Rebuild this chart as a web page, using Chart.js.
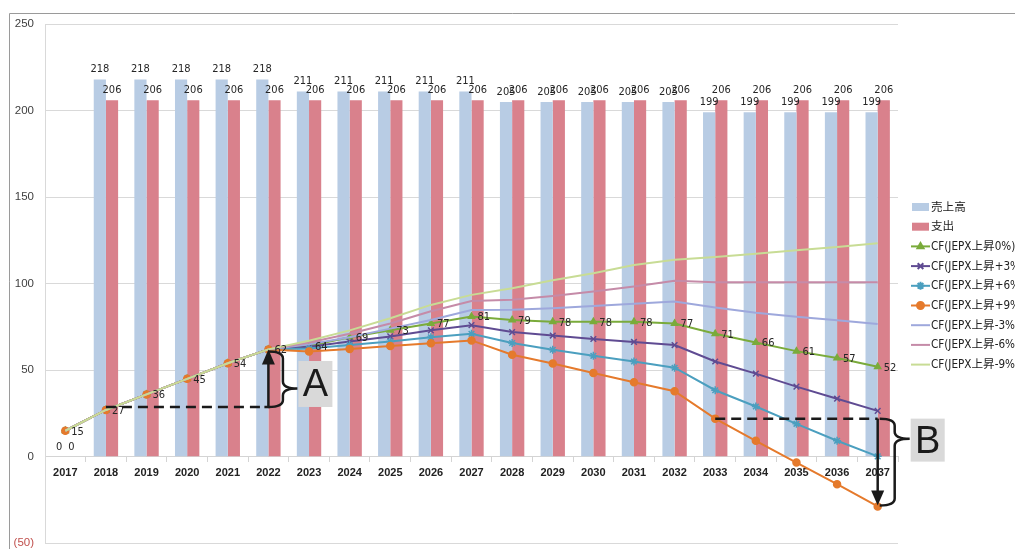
<!DOCTYPE html>
<html>
<head>
<meta charset="utf-8">
<script src="https://cdn.jsdelivr.net/npm/chart.js@4.4.1/dist/chart.umd.min.js"></script>
<style>
  html, body { margin: 0; padding: 0; background: #fff; }
  canvas { display: block; }
</style>
</head>
<body>
<canvas id="chart" width="1015" height="549"></canvas>
<script>
// Fiscal years
const years = ['2017','2018','2019','2020','2021','2022','2023','2024','2025','2026','2027',
               '2028','2029','2030','2031','2032','2033','2034','2035','2036','2037'];

// Revenue and expenditure (bars)
const sales = [0,218,218,218,218,218,211,211,211,211,211,205,205,205,205,205,199,199,199,199,199];
const costs = [0,206,206,206,206,206,206,206,206,206,206,206,206,206,206,206,206,206,206,206,206];

// Cumulative cash flow under JEPX price scenarios
const cfZero  = [15,27,36,45,54,62,64,69,73,77,81,79,78,78,78,77,71,66,61,57,52];
const cfUp3   = [15,27,36,45,54,62,63.5,66.5,69.5,73,76,72,70,68,66.3,64.5,55,48,40.5,33.5,26.5];
const cfUp6   = [15,27,36,45,54,62,62.5,64.5,66.5,69,71,65.7,61.8,58.3,55,51.4,38.4,29,19,9.2,0.2];
const cfUp9   = [15,27,36,45,54,62,60.8,62.3,64,65.6,67.2,58.9,53.8,48.4,43,37.8,22,9.2,-3.4,-15.9,-28.7];
const cfDown3 = [15,27,36,45,54,62,65,69,74,79,84.8,84.9,85.8,87.1,88.4,89.6,86.2,83.2,80.8,78.8,76.7];
const cfDown6 = [15,27,36,45,54,62,66,71,77,84,90,90.7,92.9,95.4,98.3,101.6,100.8,100.8,100.8,100.8,100.8];
const cfDown9 = [15,27,36,45,54,62,67,73,80,87.7,93.5,97.3,101.9,106,110.8,113.8,115.4,117.3,119.3,121.2,123.3];

// Value axis ticks
const yTicks = [-50, 0, 50, 100, 150, 200, 250];

const labelFont = "11px 'Liberation Sans Narrow','DejaVu Sans Condensed','Liberation Sans',sans-serif";
const legendFont = "11.6px 'Liberation Sans Narrow','DejaVu Sans Condensed','Noto Sans CJK JP',sans-serif";

const seriesStyle = [
  { label: '売上高', color: '#b8cce4', kind: 'bar' },
  { label: '支出',   color: '#d9818c', kind: 'bar' },
  { label: 'CF(JEPX上昇0%)',  color: '#7aab3b', kind: 'line', point: 'triangle', r: 3.5 },
  { label: 'CF(JEPX上昇+3%)', color: '#5f4b92', kind: 'line', point: 'crossRot', r: 4 },
  { label: 'CF(JEPX上昇+6%)', color: '#4b9fbf', kind: 'line', point: 'star', r: 4 },
  { label: 'CF(JEPX上昇+9%)', color: '#e57a2c', kind: 'line', point: 'circle', r: 3.5 },
  { label: 'CF(JEPX上昇-3%)', color: '#9ea8dc', kind: 'line', point: false, r: 0 },
  { label: 'CF(JEPX上昇-6%)', color: '#c58ba8', kind: 'line', point: false, r: 0 },
  { label: 'CF(JEPX上昇-9%)', color: '#c8dc95', kind: 'line', point: false, r: 0 }
];
const seriesData = [sales, costs, cfZero, cfUp3, cfUp6, cfUp9, cfDown3, cfDown6, cfDown9];

const datasets = seriesStyle.map((s, i) => {
  if (s.kind === 'bar') {
    return {
      type: 'bar', label: s.label, data: seriesData[i],
      backgroundColor: s.color, borderWidth: 0,
      categoryPercentage: 0.6, barPercentage: 1.0,
      order: 30 + i
    };
  }
  return {
    type: 'line', label: s.label, data: seriesData[i],
    borderColor: s.color, backgroundColor: s.color, borderWidth: 2,
    pointStyle: s.point || 'circle', pointRadius: s.r,
    pointBorderColor: s.color, pointBackgroundColor: s.color, pointBorderWidth: 1.5,
    tension: 0, fill: false,
    order: 20 - i
  };
});

// Outer frame of the chart
const framePlugin = {
  id: 'frame',
  beforeDraw(chart) {
    const c = chart.ctx;
    c.save();
    c.strokeStyle = '#9a9a9a';
    c.lineWidth = 1;
    c.beginPath();
    c.moveTo(9.5, 549);
    c.lineTo(9.5, 13.5);
    c.lineTo(1015, 13.5);
    c.stroke();
    c.restore();
  }
};

// Values above bars and beside the base-case cash flow points
const valueLabelPlugin = {
  id: 'valueLabels',
  afterDatasetsDraw(chart) {
    const c = chart.ctx;
    c.save();
    c.font = labelFont;
    c.fillStyle = '#262626';
    c.textBaseline = 'middle';
    c.textAlign = 'center';
    [0, 1].forEach(di => {
      chart.getDatasetMeta(di).data.forEach((el, i) => {
        c.fillText(String(seriesData[di][i]), el.x, el.y - 10);
      });
    });
    c.textAlign = 'left';
    chart.getDatasetMeta(2).data.forEach((el, i) => {
      c.fillText(String(cfZero[i]), el.x + 6, el.y + 1);
    });
    c.restore();
  }
};

// Legend on the right
const legendPlugin = {
  id: 'sideLegend',
  afterDraw(chart) {
    const c = chart.ctx;
    c.save();
    c.font = legendFont;
    c.textBaseline = 'middle';
    c.textAlign = 'left';
    const x0 = 911, y0 = 207, step = 19.7;
    seriesStyle.forEach((s, i) => {
      const y = y0 + i * step;
      if (s.kind === 'bar') {
        c.fillStyle = s.color;
        c.fillRect(x0 + 1, y - 4, 17, 8);
      } else {
        c.strokeStyle = s.color;
        c.fillStyle = s.color;
        c.lineWidth = 2;
        c.beginPath();
        c.moveTo(x0, y);
        c.lineTo(x0 + 19, y);
        c.stroke();
        if (s.point) {
          Chart.helpers.drawPoint(c, {
            pointStyle: s.point, radius: s.r, borderWidth: 1.5, rotation: 0
          }, x0 + 9.5, y);
        }
      }
      c.fillStyle = '#222';
      c.fillText(s.label, x0 + 20, y + 0.5);
    });
    c.restore();
  }
};

function drawArrowHead(c, x, y, dir) {
  // dir = -1 pointing up, +1 pointing down
  c.beginPath();
  c.moveTo(x, y);
  c.lineTo(x - 6.5, y - dir * 15);
  c.lineTo(x + 6.5, y - dir * 15);
  c.closePath();
  c.fill();
}

function drawBrace(c, x, yTop, yBot, yTip, w) {
  const xm = x + w * 0.5, xt = x + w;
  const r = 7;
  c.beginPath();
  c.moveTo(x, yTop);
  c.quadraticCurveTo(xm, yTop, xm, yTop + r);
  c.lineTo(xm, yTip - r);
  c.quadraticCurveTo(xm, yTip, xt, yTip);
  c.quadraticCurveTo(xm, yTip, xm, yTip + r);
  c.lineTo(xm, yBot - r);
  c.quadraticCurveTo(xm, yBot, x, yBot);
  c.stroke();
}

function drawTag(c, text, x, y, w, h) {
  c.fillStyle = '#d9d9d9';
  c.fillRect(x, y, w, h);
  c.fillStyle = '#1a1a1a';
  c.font = "38px 'Liberation Sans','DejaVu Sans',sans-serif";
  c.textAlign = 'center';
  c.textBaseline = 'middle';
  c.fillText(text, x + w / 2, y + h / 2 + 2);
}

// Callouts A (cash recovered by 2022) and B (shortfall by 2037 at +9%)
const calloutPlugin = {
  id: 'callouts',
  afterDraw(chart) {
    const c = chart.ctx;
    const xs = chart.scales.x, ys = chart.scales.y;
    c.save();
    c.strokeStyle = '#1a1a1a';
    c.fillStyle = '#1a1a1a';
    c.lineWidth = 2.5;

    // A
    const ax0 = xs.getPixelForValue(1), ax1 = xs.getPixelForValue(5);
    const aLow = ys.getPixelForValue(cfZero[1]) - 3, aHigh = ys.getPixelForValue(cfZero[5]);
    c.setLineDash([10, 6]);
    c.beginPath(); c.moveTo(ax0, aLow); c.lineTo(ax1 - 4, aLow); c.stroke();
    c.setLineDash([]);
    c.beginPath(); c.moveTo(ax1 - 4, aLow); c.lineTo(ax1, aLow); c.lineTo(ax1, aHigh + 12); c.stroke();
    drawArrowHead(c, ax1, aHigh, -1);
    const aTip = aHigh + (aLow - aHigh) * 0.68;
    drawBrace(c, ax1, aHigh + 2, aLow, aTip, 29);
    drawTag(c, 'A', ax1 + 30, aLow - 46, 34, 46);

    // B
    const bx0 = xs.getPixelForValue(16), bx1 = xs.getPixelForValue(20);
    const bHigh = ys.getPixelForValue(cfUp9[16]), bLow = ys.getPixelForValue(cfUp9[20]);
    c.setLineDash([10, 6]);
    c.beginPath(); c.moveTo(bx0, bHigh); c.lineTo(bx1, bHigh); c.stroke();
    c.setLineDash([]);
    c.beginPath(); c.moveTo(bx1, bHigh); c.lineTo(bx1, bLow - 12); c.stroke();
    drawArrowHead(c, bx1, bLow - 1, 1);
    const bTip = bHigh + (bLow - bHigh) * 0.23;
    drawBrace(c, bx1 + 2, bHigh, bLow - 1, bTip, 30);
    drawTag(c, 'B', bx1 + 33, bHigh, 34, 43);

    c.restore();
  }
};

new Chart(document.getElementById('chart').getContext('2d'), {
  type: 'bar',
  data: { labels: years, datasets },
  options: {
    responsive: false,
    animation: false,
    devicePixelRatio: 1,
    layout: { padding: { top: 24, right: 117, bottom: 5.5, left: 0 } },
    plugins: { legend: { display: false }, tooltip: { enabled: false } },
    scales: {
      x: {
        position: { y: 0 },
        afterFit: s => { s.height = 0; },
        grid: { offset: true, drawOnChartArea: false, tickLength: 5, color: '#d4d4d4' },
        border: { color: '#d4d4d4' },
        ticks: {
          autoSkip: false, maxRotation: 0, padding: 5, color: '#222',
          font: { family: "'Liberation Sans','DejaVu Sans',sans-serif", size: 11, weight: 'bold' }
        }
      },
      y: {
        min: yTicks[0], max: yTicks[yTicks.length - 1],
        afterBuildTicks: s => { s.ticks = yTicks.map(v => ({ value: v })); },
        afterFit: s => { s.width = 45; },
        grid: { color: '#d9d9d9', drawTicks: true, tickLength: 11, tickColor: 'rgba(0,0,0,0)' },
        border: { display: true, color: '#d9d9d9' },
        ticks: {
          padding: 0,
          font: { family: "'Liberation Sans','DejaVu Sans',sans-serif", size: 11.5, lineHeight: 1 },
          color: ctx => (ctx.tick && ctx.tick.value < 0) ? '#c0504d' : '#404040',
          callback: v => v < 0 ? '(' + (-v) + ')' : String(v)
        }
      }
    }
  },
  plugins: [framePlugin, valueLabelPlugin, legendPlugin, calloutPlugin]
});
</script>
</body>
</html>
